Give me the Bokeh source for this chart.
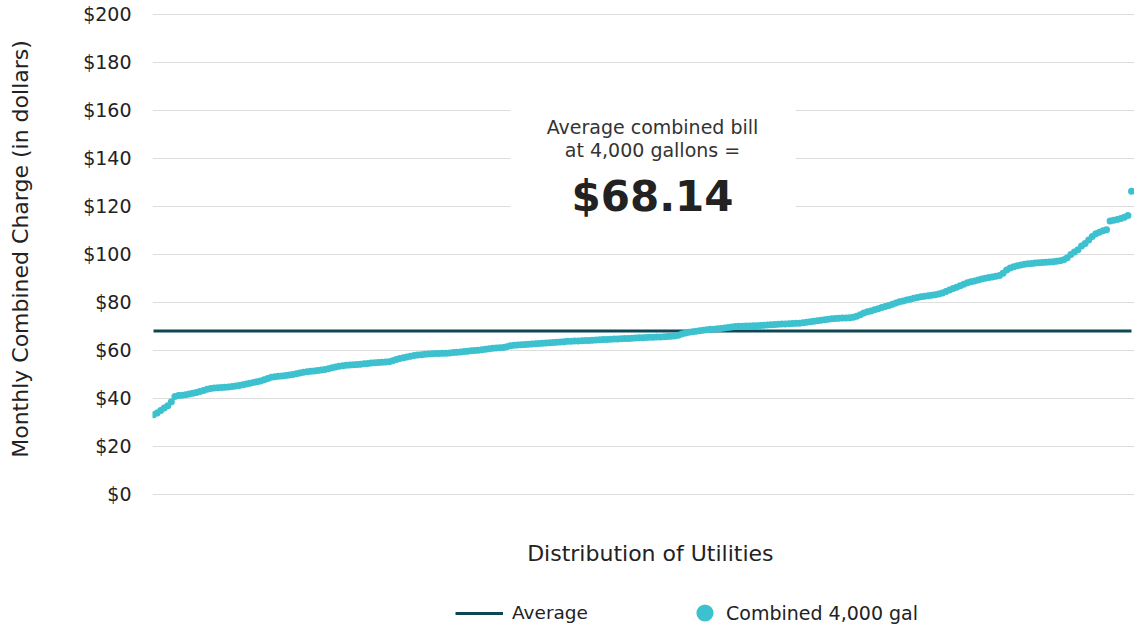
from bokeh.plotting import figure
from bokeh.layouts import column
from bokeh.models import Range1d, FixedTicker, Legend, LegendItem, BoxAnnotation, Label
from bokeh.embed import file_html
from bokeh.resources import INLINE

# Monthly combined charge at 4,000 gallons, utilities sorted ascending
charges = [
    33.2, 34.0, 35.0, 36.0, 37.0, 38.6, 40.8, 41.2, 41.4, 41.6,
    41.9, 42.2, 42.5, 42.9, 43.3, 43.9, 44.2, 44.4, 44.5, 44.6,
    44.7, 44.8, 45.0, 45.2, 45.4, 45.7, 46.0, 46.4, 46.7, 47.0,
    47.3, 47.8, 48.3, 48.8, 49.1, 49.3, 49.4, 49.6, 49.8, 50.0,
    50.3, 50.6, 50.9, 51.1, 51.3, 51.5, 51.7, 51.9, 52.1, 52.4,
    52.8, 53.1, 53.4, 53.6, 53.8, 54.0, 54.1, 54.2, 54.3, 54.5,
    54.6, 54.8, 54.9, 55.0, 55.1, 55.2, 55.3, 55.7, 56.2, 56.7,
    57.0, 57.3, 57.6, 57.9, 58.1, 58.2, 58.4, 58.5, 58.6, 58.7,
    58.7, 58.8, 58.9, 59.0, 59.2, 59.3, 59.4, 59.6, 59.7, 59.9,
    60.0, 60.1, 60.3, 60.5, 60.7, 60.9, 61.0, 61.1, 61.2, 61.6,
    62.0, 62.2, 62.3, 62.4, 62.5, 62.6, 62.7, 62.8, 62.9, 63.0,
    63.1, 63.2, 63.3, 63.4, 63.5, 63.6, 63.8, 63.9, 64.0, 64.0,
    64.1, 64.2, 64.2, 64.3, 64.4, 64.5, 64.6, 64.6, 64.7, 64.8,
    64.8, 64.9, 65.0, 65.0, 65.1, 65.2, 65.3, 65.3, 65.4, 65.5,
    65.5, 65.6, 65.6, 65.7, 65.8, 65.9, 66.0, 66.3, 66.9, 67.3,
    67.6, 67.8, 68.0, 68.2, 68.4, 68.6, 68.8, 68.9, 69.1, 69.2,
    69.4, 69.6, 69.8, 70.0, 70.1, 70.1, 70.2, 70.2, 70.3, 70.3,
    70.4, 70.5, 70.6, 70.7, 70.8, 70.9, 71.0, 71.0, 71.1, 71.2,
    71.3, 71.4, 71.6, 71.8, 72.0, 72.2, 72.4, 72.6, 72.8, 73.0,
    73.2, 73.3, 73.4, 73.5, 73.5, 73.6, 73.8, 74.3, 74.9, 75.6,
    76.1, 76.5, 77.0, 77.4, 77.9, 78.3, 78.8, 79.3, 79.8, 80.3,
    80.6, 81.0, 81.4, 81.8, 82.1, 82.4, 82.6, 82.8, 83.0, 83.2,
    83.5, 84.0, 84.6, 85.2, 85.8, 86.4, 87.0, 87.6, 88.2, 88.6,
    89.0, 89.4, 89.8, 90.1, 90.4, 90.6, 90.9, 91.2, 92.2, 93.5,
    94.4, 94.9, 95.3, 95.6, 95.9, 96.1, 96.3, 96.5, 96.6, 96.7,
    96.8, 96.9, 97.0, 97.2, 97.4, 97.8, 98.6, 100.0, 101.0, 102.0,
    103.5, 104.6, 106.0, 107.5, 108.6, 109.3, 109.9, 110.3, 114.0, 114.3,
    114.6, 115.0, 115.5, 116.2, 126.4,
]
average_bill = 68.14
y_ticks = [0, 20, 40, 60, 80, 100, 120, 140, 160, 180, 200]
y_tick_labels = ["$0", "$20", "$40", "$60", "$80", "$100", "$120", "$140", "$160", "$180", "$200"]
annotation_lines = ["Average combined bill", "at 4,000 gallons ="]
annotation_value = "$68.14"
x_title = "Distribution of Utilities"
y_title = "Monthly Combined Charge (in dollars)"
legend_labels = ["Average", "Combined 4,000 gal"]

utility_index = list(range(len(charges)))

FONT = "DejaVu Sans"
DOT = "#3dc1cf"
LINE = "#0d4852"
TEXT = "#222222"

x_range = Range1d(-0.28, 274.84)

# ---- main chart ----
p = figure(width=1134, height=520, output_backend="svg", toolbar_location=None,
           x_range=x_range, y_range=Range1d(-0.42, 205.0),
           min_border_left=152, min_border_right=0, min_border_top=2,
           min_border_bottom=25)
p.outline_line_color = None
p.background_fill_color = "white"
p.xgrid.visible = False
p.ygrid.grid_line_color = "#dddddd"
p.ygrid.grid_line_width = 1
p.xaxis.visible = False

ya = p.yaxis[0]
ya.ticker = FixedTicker(ticks=y_ticks)
ya.major_label_overrides = {t: l for t, l in zip(y_ticks, y_tick_labels)}
ya.axis_line_color = None
ya.major_tick_line_color = None
ya.minor_tick_line_color = None
ya.major_tick_out = 0
ya.major_label_standoff = 21
ya.major_label_text_font = FONT
ya.major_label_text_font_size = "19px"
ya.major_label_text_color = TEXT
ya.axis_label = y_title
ya.axis_label_text_font = FONT
ya.axis_label_text_font_size = "22px"
ya.axis_label_text_font_style = "normal"
ya.axis_label_text_color = TEXT
ya.axis_label_standoff = 47

p.line(x=[utility_index[0], utility_index[-1]], y=[average_bill, average_bill],
       line_color=LINE, line_width=3)
p.scatter(x=utility_index, y=charges, size=7, fill_color=DOT, line_color=None)

box = BoxAnnotation(left=100.0, right=179.9, bottom=116.5, top=166.6,
                    fill_color="white", fill_alpha=1.0, line_color=None)
p.add_layout(box)

p.add_layout(Label(x=139.8, y=153.0, text=annotation_lines[0], text_align="center",
                   text_baseline="middle", text_font=FONT, text_font_size="19px",
                   text_color="#333333"))
p.add_layout(Label(x=139.8, y=143.4, text=annotation_lines[1], text_align="center",
                   text_baseline="middle", text_font=FONT, text_font_size="19px",
                   text_color="#333333"))
p.add_layout(Label(x=139.8, y=124.0, text=annotation_value, text_align="center",
                   text_baseline="middle", text_font=FONT, text_font_size="42px",
                   text_font_style="bold", text_color=TEXT))

# ---- footer: x title and legend (series keys sit above this panel's visible range) ----
q = figure(width=1134, height=107, output_backend="svg", toolbar_location=None,
           x_range=x_range, y_range=Range1d(-200, -93),
           min_border_left=152, min_border_right=0, min_border_top=0,
           min_border_bottom=0)
q.outline_line_color = None
q.axis.visible = False
q.grid.visible = False

q.add_layout(Label(x=139.2, y=-126, text=x_title, text_align="center",
                   text_baseline="middle", text_font=FONT, text_font_size="22px",
                   text_color=TEXT))

avg_key = q.line(x=[utility_index[0], utility_index[-1]], y=[average_bill, average_bill],
                 line_color=LINE, line_width=3)
dot_key = q.scatter(x=utility_index, y=charges, fill_color=DOT, line_color=None)

common = dict(orientation="horizontal", padding=0, margin=0, border_line_color=None,
              background_fill_alpha=0, label_text_font=FONT, label_text_color=TEXT)
leg1 = Legend(items=[LegendItem(label=legend_labels[0], renderers=[avg_key])], location=(303, 4),
              glyph_width=48, glyph_height=20, label_height=20, label_standoff=9,
              label_text_font_size="18.5px", **common)
leg2 = Legend(items=[LegendItem(label=legend_labels[1], renderers=[dot_key])], location=(531, -8),
              glyph_width=43, glyph_height=45, label_height=20, label_standoff=0,
              label_text_font_size="19px", **common)
q.add_layout(leg1)
q.add_layout(leg2)

open("out.html", "w").write(file_html(column(p, q, spacing=0), INLINE))
